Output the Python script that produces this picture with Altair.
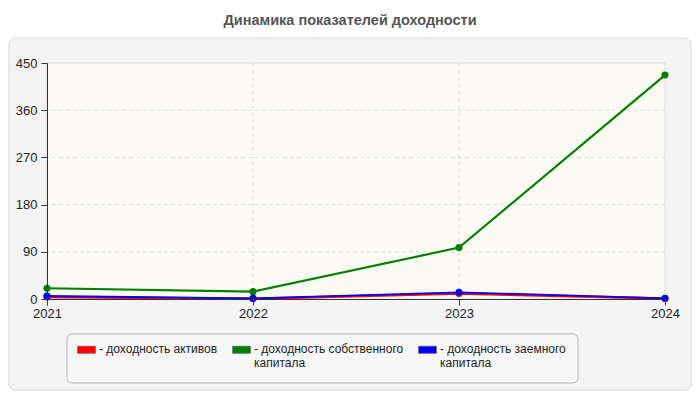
import altair as alt
import pandas as pd

years = [2021, 2022, 2023, 2024]
series_names = [
    "доходность активов",
    "доходность собственного капитала",
    "доходность заемного капитала",
]
roa = [4, 0.5, 10.5, 1]
roe = [20.5, 14, 98, 427]
rod = [5.7, 1.3, 12.8, 1.3]
colors = ["#ff0000", "#008000", "#0000ff"]
widths = [2.5, 1.8, 3]
y_ticks = [0, 90, 180, 270, 360, 450]
grid_y = [90, 180, 270, 360]
grid_x = [2022, 2023]

rows = []
for name, vals in zip(series_names, [roa, roe, rod]):
    for yr, v in zip(years, vals):
        rows.append({"year": yr, "value": v, "series": name, "line": name + " "})
df = pd.DataFrame(rows)
line_names = [n + " " for n in series_names]

W, H = 618, 236
FONT = "Liberation Sans"

xscale = alt.Scale(domain=[2021, 2024], nice=False, zero=False)
yscale = alt.Scale(domain=[0, 450], nice=False)

xaxis = alt.Axis(
    values=years, format="d", labelFlush=False, grid=False, title=None,
    domainColor="#333", tickColor="#333", tickSize=6, labelPadding=2,
    labelFontSize=13, labelColor="#222", labelFont=FONT, zindex=1,
)
yaxis = alt.Axis(
    values=y_ticks, grid=False, title=None,
    domainColor="#333", tickColor="#333", tickSize=6, labelPadding=4,
    labelFontSize=13, labelColor="#222", labelFont=FONT, zindex=1,
)

panel = alt.Chart(pd.DataFrame({"a": [0]})).mark_rect(
    fill="#f4f4f4", stroke="#d6d6d6", strokeWidth=1, cornerRadius=6
).encode(x=alt.value(-38), x2=alt.value(644), y=alt.value(-25), y2=alt.value(327))

plotbg = alt.Chart(pd.DataFrame({"a": [0]})).mark_rect(
    fill="#fbfbf4", stroke="#dddddd", strokeWidth=1
).encode(x=alt.value(0), x2=alt.value(W), y=alt.value(0), y2=alt.value(H))

legbg = alt.Chart(pd.DataFrame({"a": [0]})).mark_rect(
    fill="#f7f7f7", stroke="#b5b5b5", strokeWidth=1, cornerRadius=5
).encode(x=alt.value(20), x2=alt.value(531), y=alt.value(271), y2=alt.value(320))

gy = alt.Chart(pd.DataFrame({"v": grid_y})).mark_rule(
    color="#dcdcdc", strokeDash=[4, 3], strokeWidth=1
).encode(y=alt.Y("v:Q", scale=yscale, axis=yaxis))

gx = alt.Chart(pd.DataFrame({"v": grid_x})).mark_rule(
    color="#dcdcdc", strokeDash=[4, 3], strokeWidth=1
).encode(x=alt.X("v:Q", scale=xscale, axis=xaxis))

lines = alt.Chart(df).mark_line(interpolate="linear").encode(
    x=alt.X("year:Q", scale=xscale, axis=xaxis),
    y=alt.Y("value:Q", scale=yscale, axis=yaxis),
    stroke=alt.Stroke("line:N", scale=alt.Scale(domain=line_names, range=colors), legend=None),
    strokeWidth=alt.StrokeWidth("line:N", scale=alt.Scale(domain=line_names, range=widths), legend=None),
    order=alt.Order("year:Q"),
)

label_expr = (
    "datum.label == 'доходность активов' ? ['- доходность активов', '\u00a0'] : "
    "datum.label == 'доходность собственного капитала' ? ['- доходность собственного', '\u00a0\u00a0капитала'] : "
    "['- доходность заемного', '\u00a0\u00a0капитала']"
)

points = alt.Chart(df).mark_circle(size=50, opacity=1).encode(
    x=alt.X("year:Q", scale=xscale, axis=xaxis),
    y=alt.Y("value:Q", scale=yscale, axis=yaxis),
    fill=alt.Fill(
        "series:N",
        scale=alt.Scale(domain=series_names, range=colors),
        legend=alt.Legend(
            title=None, orient="none", legendX=30, legendY=271,
            direction="horizontal", columns=3, columnPadding=13,
            symbolType="M-1,0.27H1V1.07H-1Z", symbolSize=324,
            symbolStrokeColor="#666", symbolStrokeWidth=0.6,
            labelFont=FONT, labelFontSize=12, labelColor="#222",
            labelOffset=3, labelExpr=label_expr, labelLimit=300,
            labelBaseline="top", padding=0, zindex=1,
        ),
    ),
)

chart = alt.layer(panel, plotbg, legbg, gy, gx, lines, points).properties(
    width=W, height=H,
    title=alt.TitleParams(
        "Динамика показателей доходности", fontSize=14.5, fontWeight="bold",
        color="#555", font=FONT, anchor="middle", dx=-6, offset=9,
    ),
    autosize=alt.AutoSizeParams(type="none"),
    padding={"left": 39, "top": 55, "right": 27, "bottom": 93},
    background="white",
).configure_view(stroke=None)

chart.save("out.html", embed_options={"renderer": "svg", "actions": False})
